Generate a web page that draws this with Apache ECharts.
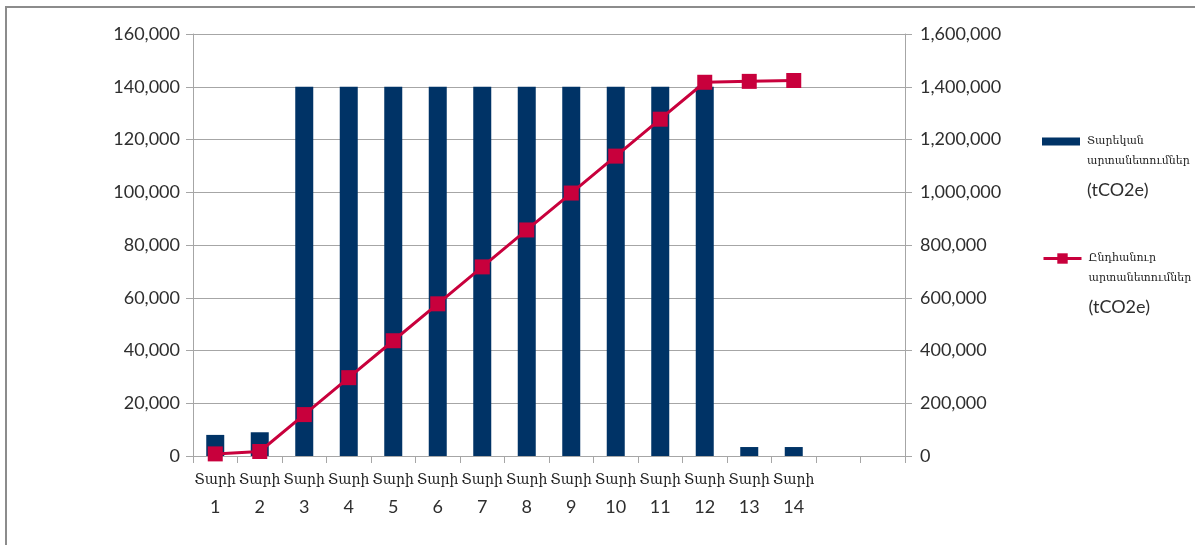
<!DOCTYPE html>
<html>
<head>
<meta charset="utf-8">
<script src="https://cdn.jsdelivr.net/npm/echarts@6/dist/echarts.min.js"></script>
<style>
  html, body { margin: 0; padding: 0; background: #ffffff; }
  #chart { width: 1195px; height: 545px; }
</style>
</head>
<body>
<div id="chart"></div>
<script>
// Year labels along the horizontal axis (two trailing empty slots)
const yearWord = 'Տարի';
const yearNumbers = ['1', '2', '3', '4', '5', '6', '7', '8', '9', '10', '11', '12', '13', '14', '', ''];

// Annual emissions, tCO2e (left axis)
const annualEmissions = [8000, 9000, 140000, 140000, 140000, 140000, 140000, 140000, 140000, 140000, 140000, 140000, 3400, 3400];

// Total (cumulative) emissions, tCO2e (right axis)
const totalEmissions = [8000, 17000, 157000, 297000, 437000, 577000, 717000, 857000, 997000, 1137000, 1277000, 1417000, 1420400, 1423800];

const seriesNames = ['Տարեկան արտանետումներ (tCO2e)', 'Ընդհանուր արտանետումներ (tCO2e)'];

const leftTicks = { min: 0, max: 160000, interval: 20000 };
const rightTicks = { min: 0, max: 1600000, interval: 200000 };

const BAR_COLOR = '#003366';
const LINE_COLOR = '#c8003c';
const AXIS_GRAY = '#a6a6a6';
const TEXT_COLOR = '#2e2e2e';
const NUM_FONT = 'Lato, "Open Sans", sans-serif';
const ARM_FONT = '"DejaVu Serif", serif';

const categories = yearNumbers.map(n => n === '' ? '' : yearWord + '\n' + n);

const fmt = v => v.toLocaleString('en-US');

// Legend text: two Armenian words on separate lines, unit below after a gap.
// An invisible top line keeps the icon level with the first word.
function legendText(name) {
  const parts = name.split(' ');
  return '{pad| }\n{t|' + parts[0] + '}\n{t|' + parts[1] + '}\n{u|' + parts[2] + '}';
}
const legendRich = {
  pad: { lineHeight: 58, fontSize: 1 },
  t: { fontFamily: ARM_FONT, fontSize: 11, lineHeight: 20, color: '#222', padding: [0, 0, 0, 2] },
  u: { fontFamily: NUM_FONT, fontSize: 18, lineHeight: 38, color: TEXT_COLOR, padding: [0, 0, 0, 2] }
};

const chart = echarts.init(document.getElementById('chart'), null, { renderer: 'canvas' });

chart.setOption({
  animation: false,
  backgroundColor: '#ffffff',
  graphic: [{
    type: 'rect',
    shape: { x: 6, y: 7, width: 1400, height: 700 },
    style: { fill: 'none', stroke: '#8c8c8c', lineWidth: 2 },
    silent: true
  }],
  grid: { left: 193, right: 290, top: 34, bottom: 89, containLabel: false },
  legend: [
    {
      data: [seriesNames[0]],
      left: 1042, top: 102, padding: 0,
      itemWidth: 38, itemHeight: 8,
      icon: 'rect',
      formatter: legendText,
      textStyle: { rich: legendRich }
    },
    {
      data: [seriesNames[1]],
      left: 1042, top: 219, padding: 0,
      itemWidth: 38, itemHeight: 13,
      formatter: legendText,
      lineStyle: { width: 3 },
      textStyle: { rich: legendRich }
    }
  ],
  xAxis: {
    type: 'category',
    data: categories,
    boundaryGap: true,
    axisLine: { show: true, lineStyle: { color: AXIS_GRAY, width: 1 } },
    axisTick: { show: true, length: 7, lineStyle: { color: AXIS_GRAY } },
    axisLabel: {
      interval: 0,
      margin: 12,
      formatter: function (v) {
        if (!v) return '';
        const p = v.split('\n');
        return '{a|' + p[0] + '}\n{b|' + p[1] + '}';
      },
      rich: {
        a: { fontFamily: ARM_FONT, fontSize: 14, lineHeight: 24, color: '#222' },
        b: { fontFamily: NUM_FONT, fontSize: 18, lineHeight: 30, color: TEXT_COLOR }
      }
    }
  },
  yAxis: [
    {
      type: 'value',
      min: leftTicks.min, max: leftTicks.max, interval: leftTicks.interval,
      axisLine: { show: true, lineStyle: { color: AXIS_GRAY } },
      axisTick: { show: true, length: 7, lineStyle: { color: AXIS_GRAY } },
      splitLine: { show: true, lineStyle: { color: AXIS_GRAY, width: 1 } },
      axisLabel: { margin: 13, formatter: fmt, fontFamily: NUM_FONT, fontSize: 18, color: TEXT_COLOR }
    },
    {
      type: 'value',
      min: rightTicks.min, max: rightTicks.max, interval: rightTicks.interval,
      position: 'right',
      axisLine: { show: true, lineStyle: { color: AXIS_GRAY } },
      axisTick: { show: true, length: 7, lineStyle: { color: AXIS_GRAY } },
      splitLine: { show: false },
      axisLabel: { margin: 15, formatter: fmt, fontFamily: NUM_FONT, fontSize: 18, color: TEXT_COLOR }
    }
  ],
  series: [
    {
      name: seriesNames[0],
      type: 'bar',
      yAxisIndex: 0,
      data: annualEmissions,
      barWidth: 18,
      itemStyle: { color: BAR_COLOR },
      z: 2
    },
    {
      name: seriesNames[1],
      type: 'line',
      yAxisIndex: 1,
      data: totalEmissions,
      symbol: 'rect',
      symbolSize: 15,
      lineStyle: { color: LINE_COLOR, width: 3 },
      itemStyle: { color: LINE_COLOR },
      z: 3
    }
  ]
});
</script>
</body>
</html>
